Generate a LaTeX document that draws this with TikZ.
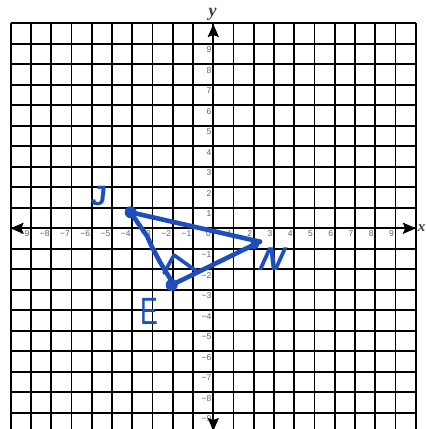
\documentclass[tikz,border=0pt]{standalone}
\usepackage{fontspec}
\setmainfont{Liberation Serif}
\newfontfamily\lblfont{Liberation Sans}
\usetikzlibrary{arrows.meta}
\definecolor{pen}{RGB}{28,78,190}
\definecolor{ticklbl}{RGB}{95,95,125}
\definecolor{axlbl}{RGB}{60,60,90}
\tikzset{
  gridline/.style={draw=black, line width=1.7pt},
  axisline/.style={draw=black, line width=1.8pt,
    {Stealth[length=13pt,width=11pt,inset=2pt]}-{Stealth[length=13pt,width=11pt,inset=2pt]}},
  ticktext/.style={font=\lblfont\fontsize{8.5}{8.5}\selectfont, text=ticklbl, inner sep=0pt, anchor=north east},
  axtext/.style={font=\fontsize{18}{18}\selectfont\bfseries\itshape, text=axlbl, inner sep=0pt},
  penline/.style={draw=pen, line width=4.6pt, line cap=round, line join=round},
  penthin/.style={draw=pen, line width=3.6pt, line cap=round, line join=round},
  handtext/.style={text=pen, inner sep=0pt},
}
\begin{document}
\begin{tikzpicture}[x=1pt,y=-1pt]
\useasboundingbox (0,0) rectangle (426,429);
\clip (0,0) rectangle (426,429);
\fill[white] (0,0) rectangle (426,429);
% grid
\foreach \i in {-10,...,10} {
  \draw[gridline] ({213.3+20.25*\i},23.3) -- ({213.3+20.25*\i},433);
}
\foreach \j in {-10,...,10} {
  \draw[gridline] (10.8,{228.3-20.5*\j}) -- (415.8,{228.3-20.5*\j});
}
% tick labels
\foreach \i in {1,...,9} {
  \node[ticktext] (xp\i) at ({213.3+20.25*\i-1.5},230.2) {\i};
  \node[ticktext] (xm\i) at ({213.3-20.25*\i-1.5},230.2) {−\i};
  \node[ticktext] (yp\i) at (211.5,{228.3-20.5*\i+2.8}) {\i};
  \node[ticktext] (ym\i) at (211.5,{228.3+20.5*\i+2.8}) {−\i};
}
\node[ticktext] (o) at (211,230.8) {0};
% axes with arrows
\draw[axisline] (213.3,24) -- (213.3,431);
\draw[axisline] (10.5,228.3) -- (416,228.3);
\node[axtext, anchor=base] (ylab) at (212.5,16.5) {y};
\node[axtext, font=\fontsize{15}{15}\selectfont\bfseries\itshape, anchor=base east] (xlab) at (425.5,231.5) {x};
% student drawing
\coordinate (J) at (130.7,212.3);
\coordinate (N) at (260,241.7);
\coordinate (Nd) at (254.5,245);
\coordinate (E) at (171.7,285);
\coordinate (m1) at (164,273);
\coordinate (m2) at (174,255);
\coordinate (m3) at (197,271.5);
\draw[penline] (J) -- (N);
\draw[penline] (N) -- (E);
\draw[penline] (J) -- (140,226) -- (147,236) -- (152,247) -- (160,262) -- (166,272) -- (171,280) -- (E);
\draw[penthin] (m1) -- (m2) -- (m3);
\fill[pen] (J) circle (6);
\fill[pen] (E) circle (6);
\fill[pen] (Nd) circle (4.5);
% handwritten labels
\begin{scope}[shift={(99,196.5)}]
  \node[handtext, font=\lblfont\bfseries\fontsize{28}{28}\selectfont, xslant=0.1, transform shape] (Jl) at (0,0) {J};
\end{scope}
\begin{scope}[shift={(273,259)}]
  \node[handtext, font=\lblfont\bfseries\fontsize{33}{33}\selectfont, xslant=0.45, transform shape] (Nl) at (0,0) {N};
\end{scope}
\begin{scope}[shift={(149.5,311)}]
  \node[handtext, font=\lblfont\fontsize{38}{38}\selectfont, xscale=0.7, transform shape] (El) at (0,0) {E};
\end{scope}
\end{tikzpicture}
\end{document}
